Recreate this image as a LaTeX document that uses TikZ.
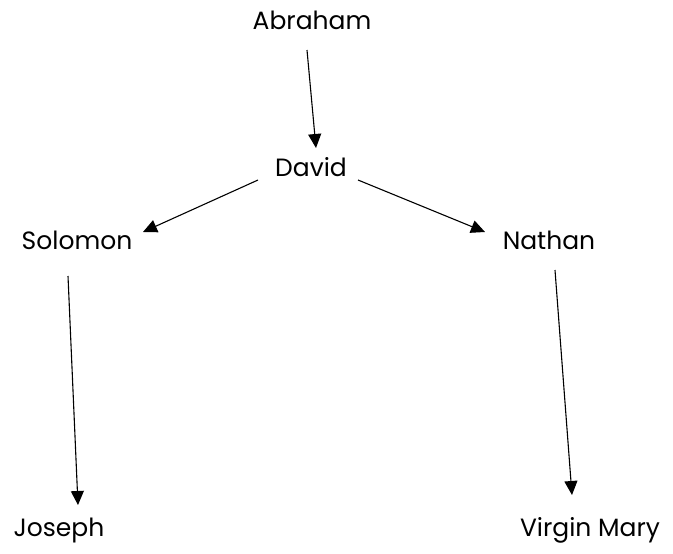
\documentclass[tikz,border=0pt]{standalone}
\usepackage{fontspec}
\setmainfont{Poppins}
\usepackage{tikz}
\usetikzlibrary{arrows.meta}

\begin{document}
\begin{tikzpicture}[x=1pt, y=-1pt]

	\tikzstyle{person_node}=[inner sep=0pt, font=\fontsize{25}{29}\selectfont]
	\tikzstyle{descent_arrow}=[-{Triangle[length=14pt, width=13pt]}, line width=1.1pt, draw=black]

	\useasboundingbox (0,0) rectangle (673,554);

	\node[person_node] at (312, 20) (abraham) {Abraham};
	\node[person_node] at (311, 167) (david) {David};
	\node[person_node] at (77, 240) (solomon) {Solomon};
	\node[person_node] at (549, 240) (nathan) {Nathan};
	\node[person_node] at (59, 530) (joseph) {Joseph};
	\node[person_node] at (590, 530) (virgin_mary) {Virgin Mary};

	\draw[descent_arrow] ([shift={(-5,30)}]abraham.center) -- ([shift={(5,-19)}]david.center);
	\draw[descent_arrow] ([shift={(-53,13)}]david.center) -- ([shift={(66,-8)}]solomon.center);
	\draw[descent_arrow] ([shift={(47,13)}]david.center) -- ([shift={(-64,-8)}]nathan.center);
	\draw[descent_arrow] ([shift={(-9,36)}]solomon.center) -- ([shift={(19,-25)}]joseph.center);
	\draw[descent_arrow] ([shift={(6,30)}]nathan.center) -- ([shift={(-18,-35)}]virgin_mary.center);
\end{tikzpicture}
\end{document}
